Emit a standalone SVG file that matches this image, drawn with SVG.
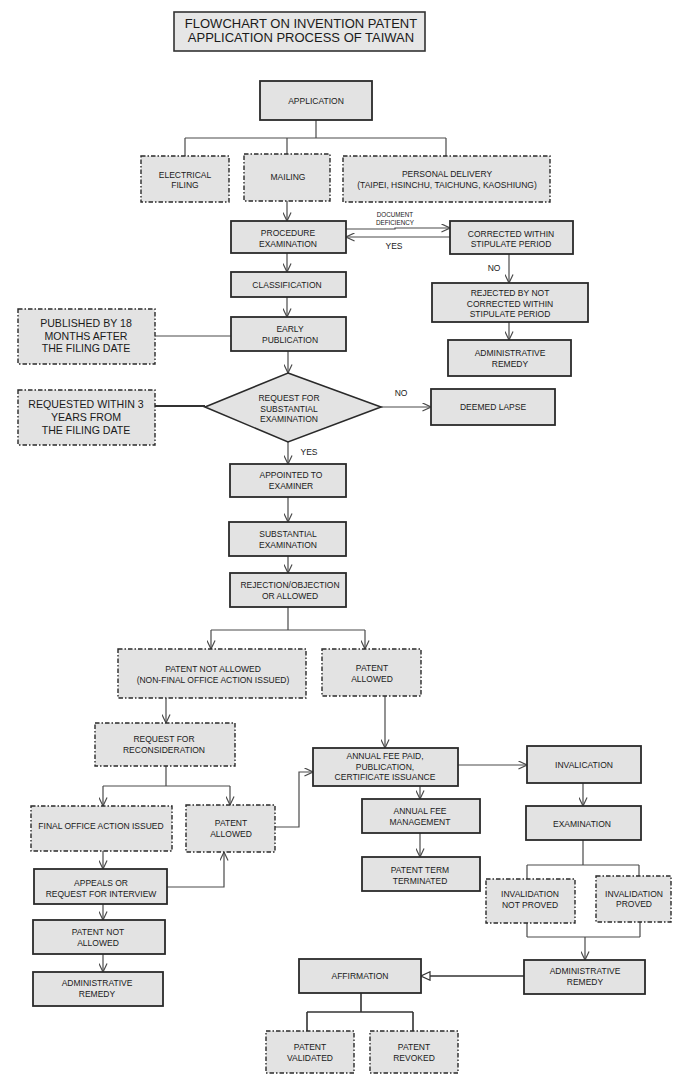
<svg xmlns="http://www.w3.org/2000/svg" width="700" height="1082" viewBox="0 0 700 1082">
<defs>
<style>
.b{fill:#e3e3e3;stroke:#2a2a2a;stroke-width:1.8}
.d{fill:#e3e3e3;stroke:#2a2a2a;stroke-width:1.4;stroke-dasharray:4.5,2,1.5,2}
.t{font-family:"Liberation Sans",Arial,sans-serif;font-size:8.5px;fill:#1a1a1a;text-anchor:middle}
.big{font-size:10.6px}
.ttl{font-size:13px}
.sm{font-size:6.3px}
.c{fill:none;stroke:#4a4a4a;stroke-width:1.2}
.a{fill:none;stroke:#4a4a4a;stroke-width:1.2;marker-end:url(#arr)}
</style>
<marker id="arr" viewBox="0 0 10 10" refX="9.5" refY="5" markerWidth="9" markerHeight="9" markerUnits="userSpaceOnUse" orient="auto">
<path d="M0,0.5 L9.5,5 L0,9.5" fill="none" stroke="#4a4a4a" stroke-width="1.3"/>
</marker>
<marker id="tri" viewBox="0 0 10 10" refX="9.5" refY="5" markerWidth="10" markerHeight="10" markerUnits="userSpaceOnUse" orient="auto">
<path d="M0.5,0.8 L9.5,5 L0.5,9.2 Z" fill="#fff" stroke="#333" stroke-width="1.2"/>
</marker>
</defs>
<rect width="700" height="1082" fill="#fff"/>

<g id="connectors">
<path class="c" d="M316,120 V138 M185,138 H446 M185,138 V156 M287,138 V154 M446,138 V156"/>
<path class="a" d="M287,201 V221"/>
<path class="a" d="M346,229 H395 V228 H450"/>
<path class="a" d="M450,237 H346"/>
<path class="a" d="M509,254 V283"/>
<path class="a" d="M509,322 V340"/>
<path class="a" d="M287,253 V272"/>
<path class="a" d="M287,297 V317"/>
<path class="c" d="M155,336 H231"/>
<path class="a" d="M288,351 V373"/>
<path class="c" d="M155,406 H205" style="stroke-width:2;stroke:#333"/>
<path class="a" d="M381,407 H431"/>
<path class="a" d="M288,442 V464"/>
<path class="a" d="M288,497 V522"/>
<path class="a" d="M288,556 V573"/>
<path class="c" d="M288,607 V630 M211,630 H365"/>
<path class="a" d="M211,630 V649"/>
<path class="a" d="M365,630 V649"/>
<path class="a" d="M166,698 V723"/>
<path class="c" d="M166,766 V786 M103,786 H230"/>
<path class="a" d="M103,786 V806"/>
<path class="a" d="M230,786 V805"/>
<path class="a" d="M275,827 H299 V772 H313"/>
<path class="a" d="M385,696 V748"/>
<path class="a" d="M458,765 H527"/>
<path class="a" d="M420,786 V799"/>
<path class="a" d="M420,833 V857"/>
<path class="a" d="M583,783 V806"/>
<path class="c" d="M583,840 V865 M527,865 H639 M527,865 V879 M639,865 V876"/>
<path class="a" d="M103,851 V869"/>
<path class="a" d="M167,887 H224 V852"/>
<path class="a" d="M103,904 V920"/>
<path class="a" d="M103,954 V972"/>
<path class="c" d="M527,923 V937 M640,922 V937 M527,937 H640"/>
<path class="a" d="M585,937 V960"/>
<path d="M524,976 H421" fill="none" stroke="#333" stroke-width="1.6" marker-end="url(#tri)"/>
<path class="c" d="M361,993 V1012 M307,1012 H413 M307,1012 V1031 M413,1012 V1031" style="stroke-width:1.6;stroke:#333"/>
<text class="t sm" x="395" y="216.5">DOCUMENT</text>
<text class="t sm" x="395" y="224.5">DEFICIENCY</text>
<text class="t" x="394" y="249">YES</text>
<text class="t" x="494" y="271">NO</text>
<text class="t" x="401" y="396">NO</text>
<text class="t" x="309" y="455">YES</text>
</g>

<g id="title"><rect x="174" y="12" width="251" height="39" fill="#e6e6e6" stroke="#333" stroke-width="1.6"/>
<text class="t ttl" x="301" y="27.5">FLOWCHART ON INVENTION PATENT</text>
<text class="t ttl" x="301" y="42">APPLICATION PROCESS OF TAIWAN</text></g>

<g id="application"><rect class="b" x="260" y="81" width="112" height="39"/><text class="t" x="316" y="104">APPLICATION</text></g>
<g id="electrical-filing"><rect class="d" x="141" y="156" width="88" height="46"/><text class="t" x="185" y="178">ELECTRICAL</text><text class="t" x="185" y="188">FILING</text></g>
<g id="mailing"><rect class="d" x="244" y="154" width="86" height="47"/><text class="t" x="288" y="180">MAILING</text></g>
<g id="personal-delivery"><rect class="d" x="343" y="156" width="207" height="46"/><text class="t" x="447" y="177">PERSONAL DELIVERY</text><text class="t" x="447" y="187.5">(TAIPEI, HSINCHU, TAICHUNG, KAOSHIUNG)</text></g>
<g id="procedure-examination"><rect class="b" x="231" y="221" width="115" height="32"/><text class="t" x="288" y="236">PROCEDURE</text><text class="t" x="288" y="246.5">EXAMINATION</text></g>
<g id="corrected-within"><rect class="b" x="450" y="221" width="123" height="33"/><text class="t" x="511" y="236.5">CORRECTED WITHIN</text><text class="t" x="511" y="247">STIPULATE PERIOD</text></g>
<g id="rejected-not-corrected"><rect class="b" x="432" y="283" width="156" height="39"/><text class="t" x="510" y="296">REJECTED BY NOT</text><text class="t" x="510" y="306.5">CORRECTED WITHIN</text><text class="t" x="510" y="317">STIPULATE PERIOD</text></g>
<g id="administrative-remedy-1"><rect class="b" x="448" y="340" width="123" height="36"/><text class="t" x="510" y="356">ADMINISTRATIVE</text><text class="t" x="510" y="367">REMEDY</text></g>
<g id="classification"><rect class="b" x="231" y="272" width="115" height="25"/><text class="t" x="287" y="288">CLASSIFICATION</text></g>
<g id="early-publication"><rect class="b" x="231" y="317" width="115" height="34"/><text class="t" x="290" y="332">EARLY</text><text class="t" x="290" y="342.5">PUBLICATION</text></g>
<g id="published-18-months"><rect class="d" x="18" y="309" width="137" height="55"/><text class="t big" x="86" y="327">PUBLISHED BY 18</text><text class="t big" x="86" y="339.5">MONTHS AFTER</text><text class="t big" x="86" y="352">THE FILING DATE</text></g>
<g id="request-substantial"><polygon points="288,373 381,407 288,442 205,407" fill="#e3e3e3" stroke="#2a2a2a" stroke-width="1.6"/><text class="t" x="289" y="401">REQUEST FOR</text><text class="t" x="289" y="411.5">SUBSTANTIAL</text><text class="t" x="289" y="422">EXAMINATION</text></g>
<g id="requested-3-years"><rect class="d" x="18" y="390" width="137" height="55"/><text class="t big" x="86" y="408">REQUESTED WITHIN 3</text><text class="t big" x="86" y="421">YEARS FROM</text><text class="t big" x="86" y="434">THE FILING DATE</text></g>
<g id="deemed-lapse"><rect class="b" x="431" y="389" width="124" height="36"/><text class="t" x="493" y="410">DEEMED LAPSE</text></g>
<g id="appointed-examiner"><rect class="b" x="230" y="464" width="116" height="33"/><text class="t" x="291" y="478">APPOINTED TO</text><text class="t" x="291" y="488.5">EXAMINER</text></g>
<g id="substantial-examination"><rect class="b" x="229" y="522" width="117" height="34"/><text class="t" x="288" y="537">SUBSTANTIAL</text><text class="t" x="288" y="547.5">EXAMINATION</text></g>
<g id="rejection-objection"><rect class="b" x="230" y="573" width="116" height="34"/><text class="t" x="290" y="588">REJECTION/OBJECTION</text><text class="t" x="290" y="598.5">OR ALLOWED</text></g>
<g id="patent-not-allowed-nonfinal"><rect class="d" x="118" y="649" width="188" height="49"/><text class="t" x="213" y="672">PATENT NOT ALLOWED</text><text class="t" x="213" y="682.5">(NON-FINAL OFFICE ACTION ISSUED)</text></g>
<g id="patent-allowed-1"><rect class="d" x="322" y="649" width="99" height="47"/><text class="t" x="372" y="671">PATENT</text><text class="t" x="372" y="681.5">ALLOWED</text></g>
<g id="request-reconsideration"><rect class="d" x="95" y="723" width="140" height="43"/><text class="t" x="164" y="742">REQUEST FOR</text><text class="t" x="164" y="752.5">RECONSIDERATION</text></g>
<g id="final-office-action"><rect class="d" x="31" y="806" width="141" height="45"/><text class="t" x="101" y="829">FINAL OFFICE ACTION ISSUED</text></g>
<g id="patent-allowed-2"><rect class="d" x="186" y="805" width="89" height="47"/><text class="t" x="231" y="826">PATENT</text><text class="t" x="231" y="836.5">ALLOWED</text></g>
<g id="annual-fee-paid"><rect class="b" x="313" y="748" width="145" height="38"/><text class="t" x="385" y="759">ANNUAL FEE PAID,</text><text class="t" x="385" y="769.5">PUBLICATION,</text><text class="t" x="385" y="779.5">CERTIFICATE ISSUANCE</text></g>
<g id="invalication"><rect class="b" x="527" y="746" width="114" height="37"/><text class="t" x="584" y="768">INVALICATION</text></g>
<g id="examination"><rect class="b" x="526" y="806" width="115" height="34"/><text class="t" x="582" y="827">EXAMINATION</text></g>
<g id="annual-fee-management"><rect class="b" x="362" y="799" width="118" height="34"/><text class="t" x="420" y="814">ANNUAL FEE</text><text class="t" x="420" y="824.5">MANAGEMENT</text></g>
<g id="patent-term-terminated"><rect class="b" x="362" y="857" width="118" height="34"/><text class="t" x="420" y="873">PATENT TERM</text><text class="t" x="420" y="883.5">TERMINATED</text></g>
<g id="appeals"><rect class="b" x="34" y="869" width="133" height="35"/><text class="t" x="101" y="886">APPEALS OR</text><text class="t" x="101" y="896.5">REQUEST FOR INTERVIEW</text></g>
<g id="patent-not-allowed"><rect class="b" x="33" y="920" width="132" height="34"/><text class="t" x="98" y="935">PATENT NOT</text><text class="t" x="98" y="945.5">ALLOWED</text></g>
<g id="administrative-remedy-2"><rect class="b" x="33" y="972" width="130" height="34"/><text class="t" x="97" y="986">ADMINISTRATIVE</text><text class="t" x="97" y="997">REMEDY</text></g>
<g id="invalidation-not-proved"><rect class="d" x="486" y="879" width="89" height="44"/><text class="t" x="530" y="897">INVALIDATION</text><text class="t" x="530" y="907.5">NOT PROVED</text></g>
<g id="invalidation-proved"><rect class="d" x="596" y="876" width="75" height="46"/><text class="t" x="634" y="897">INVALIDATION</text><text class="t" x="634" y="907">PROVED</text></g>
<g id="administrative-remedy-3"><rect class="b" x="524" y="960" width="121" height="34"/><text class="t" x="585" y="974">ADMINISTRATIVE</text><text class="t" x="585" y="985">REMEDY</text></g>
<g id="affirmation"><rect class="b" x="299" y="959" width="122" height="34"/><text class="t" x="360" y="979">AFFIRMATION</text></g>
<g id="patent-validated"><rect class="d" x="266" y="1031" width="88" height="42"/><text class="t" x="310" y="1050">PATENT</text><text class="t" x="310" y="1060.5">VALIDATED</text></g>
<g id="patent-revoked"><rect class="d" x="370" y="1031" width="88" height="42"/><text class="t" x="414" y="1050">PATENT</text><text class="t" x="414" y="1060.5">REVOKED</text></g>
</svg>
